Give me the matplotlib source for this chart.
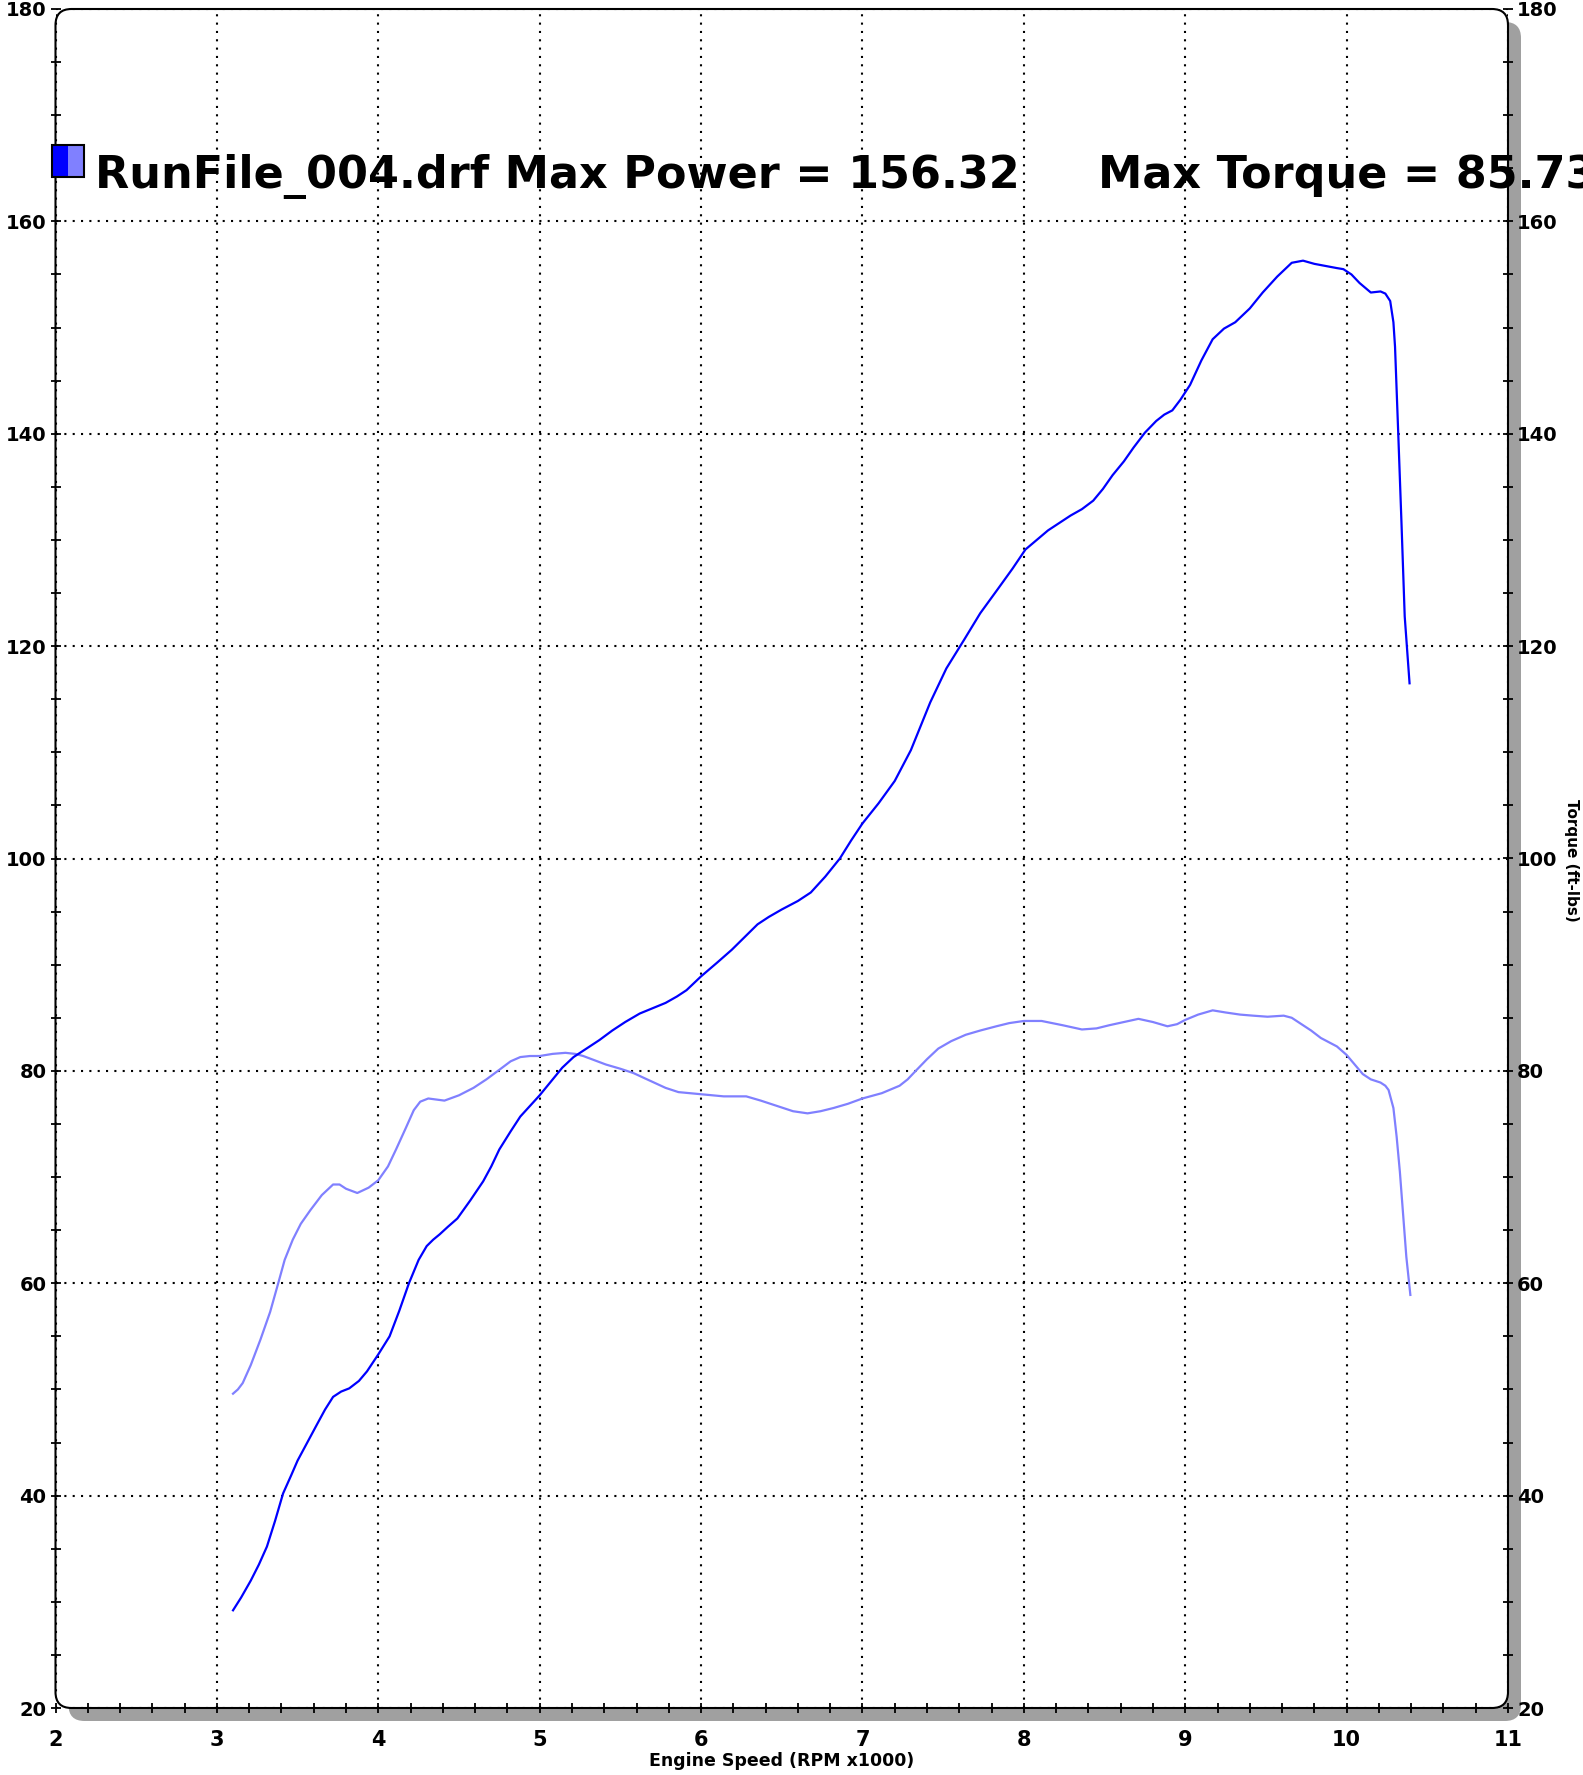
import matplotlib.pyplot as plt
import matplotlib
from matplotlib.patches import FancyBboxPatch, Rectangle
from matplotlib.transforms import IdentityTransform
from matplotlib.ticker import MultipleLocator

matplotlib.rcParams['font.family'] = ['DejaVu Sans']
matplotlib.rcParams['font.weight'] = 'bold'

# power curve (hp)
power_rpm = [3.10, 3.15, 3.21, 3.26, 3.31, 3.36, 3.41, 3.46, 3.50, 3.56, 3.62, 3.67, 3.72, 3.77,
             3.82, 3.88, 3.93, 4.00, 4.07, 4.13, 4.19, 4.25, 4.30, 4.34, 4.38, 4.43, 4.49, 4.57,
             4.65, 4.70, 4.75, 4.82, 4.88, 4.94, 5.00, 5.07, 5.14, 5.21, 5.29, 5.37, 5.45, 5.53,
             5.62, 5.70, 5.78, 5.85, 5.91, 6.00, 6.10, 6.19, 6.27, 6.35, 6.42, 6.50, 6.60, 6.68,
             6.77, 6.86, 6.93, 7.00, 7.10, 7.20, 7.30, 7.42, 7.52, 7.63, 7.73, 7.84, 7.93, 8.01,
             8.08, 8.15, 8.22, 8.29, 8.36, 8.43, 8.49, 8.55, 8.62, 8.68, 8.75, 8.82, 8.87, 8.92,
             8.97, 9.03, 9.10, 9.17, 9.24, 9.31, 9.40, 9.48, 9.57, 9.66, 9.73, 9.80, 9.87, 9.94,
             9.98, 10.03, 10.08, 10.15, 10.21, 10.24, 10.27, 10.29, 10.30, 10.32, 10.34, 10.36, 10.39]
power_hp = [29.2, 30.4, 32.0, 33.5, 35.2, 37.6, 40.2, 41.9, 43.3, 45.0, 46.7, 48.1, 49.3, 49.8,
            50.1, 50.8, 51.7, 53.3, 55.0, 57.4, 60.0, 62.2, 63.5, 64.1, 64.6, 65.3, 66.1, 67.8,
            69.6, 71.0, 72.6, 74.3, 75.7, 76.7, 77.7, 79.0, 80.3, 81.3, 82.1, 82.9, 83.8, 84.6,
            85.4, 85.9, 86.4, 87.0, 87.6, 88.9, 90.2, 91.4, 92.6, 93.8, 94.5, 95.2, 96.0, 96.8,
            98.3, 100.0, 101.7, 103.3, 105.2, 107.3, 110.2, 114.7, 117.9, 120.6, 123.1, 125.4, 127.3, 129.1,
            130.0, 130.9, 131.6, 132.3, 132.9, 133.7, 134.8, 136.1, 137.4, 138.7, 140.1, 141.2, 141.8, 142.2,
            143.2, 144.6, 146.9, 148.9, 149.9, 150.5, 151.8, 153.3, 154.8, 156.1, 156.3, 156.0, 155.8, 155.6,
            155.5, 155.0, 154.2, 153.3, 153.4, 153.2, 152.5, 150.5, 148.2, 140.0, 131.6, 122.8, 116.5]

# torque curve (ft-lbs)
torque_rpm = [3.10, 3.13, 3.16, 3.21, 3.27, 3.33, 3.38, 3.42, 3.47, 3.52, 3.58, 3.65, 3.72, 3.76,
              3.80, 3.87, 3.94, 4.00, 4.06, 4.11, 4.17, 4.22, 4.26, 4.31, 4.36, 4.41, 4.50, 4.59,
              4.67, 4.75, 4.82, 4.88, 4.94, 5.00, 5.08, 5.16, 5.22, 5.27, 5.34, 5.41, 5.50, 5.58,
              5.68, 5.78, 5.86, 5.93, 6.00, 6.14, 6.28, 6.37, 6.47, 6.57, 6.66, 6.74, 6.82, 6.91,
              7.00, 7.12, 7.23, 7.28, 7.33, 7.40, 7.47, 7.55, 7.64, 7.73, 7.83, 7.91, 8.00, 8.11,
              8.24, 8.36, 8.45, 8.53, 8.62, 8.71, 8.80, 8.89, 8.95, 9.00, 9.08, 9.17, 9.25, 9.34,
              9.42, 9.51, 9.61, 9.66, 9.71, 9.78, 9.84, 9.94, 10.00, 10.05, 10.10, 10.15, 10.21,
              10.24, 10.26, 10.29, 10.31, 10.33, 10.35, 10.37, 10.395]
torque_ftlb = [49.6, 50.0, 50.6, 52.3, 54.7, 57.3, 60.0, 62.2, 64.1, 65.6, 66.9, 68.3, 69.3, 69.3,
               68.9, 68.5, 69.0, 69.7, 71.0, 72.6, 74.6, 76.3, 77.1, 77.4, 77.3, 77.2, 77.7, 78.4,
               79.2, 80.1, 80.9, 81.3, 81.4, 81.4, 81.6, 81.7, 81.6, 81.4, 81.0, 80.6, 80.2, 79.8,
               79.1, 78.4, 78.0, 77.9, 77.8, 77.6, 77.6, 77.2, 76.7, 76.2, 76.0, 76.2, 76.5, 76.9,
               77.4, 77.9, 78.6, 79.2, 80.0, 81.1, 82.1, 82.8, 83.4, 83.8, 84.2, 84.5, 84.7, 84.7,
               84.3, 83.9, 84.0, 84.3, 84.6, 84.9, 84.6, 84.2, 84.4, 84.8, 85.3, 85.7, 85.5, 85.3,
               85.2, 85.1, 85.2, 85.0, 84.5, 83.8, 83.1, 82.3, 81.5, 80.6, 79.7, 79.2, 78.9,
               78.6, 78.2, 76.5, 73.8, 70.5, 66.5, 62.5, 58.9]

W, H = 1583, 1775
L, R, T, B = 55.5, 1508, 9, 1708

fig = plt.figure(figsize=(W / 100, H / 100), dpi=100)

# drop shadow + rounded frame (pixel coords)
shadow = FancyBboxPatch((L + 13, H - B - 13), R - L, B - T, boxstyle="round,pad=0,rounding_size=16",
                        transform=IdentityTransform(), fc='#a0a0a0', ec='none', zorder=-3)
frame = FancyBboxPatch((L, H - B), R - L, B - T, boxstyle="round,pad=0,rounding_size=16",
                       transform=IdentityTransform(), fc='white', ec='black', lw=1.5, zorder=-2)
fig.add_artist(shadow)
fig.add_artist(frame)

ax = fig.add_axes([L / W, 1 - B / H, (R - L) / W, (B - T) / H])
ax.patch.set_visible(False)
ax.set_xlim(2, 11)
ax.set_ylim(20, 180)
for s in ax.spines.values():
    s.set_visible(False)

ax.plot(torque_rpm, torque_ftlb, color='#8080ff', lw=1.6, zorder=3, solid_joinstyle='round')
ax.plot(power_rpm, power_hp, color='#0000ff', lw=1.6, zorder=4, solid_joinstyle='round')

ax.xaxis.set_major_locator(MultipleLocator(1))
ax.xaxis.set_minor_locator(MultipleLocator(0.2))
ax.yaxis.set_major_locator(MultipleLocator(20))
ax.yaxis.set_minor_locator(MultipleLocator(5))
ax.grid(True, which='major', color='black', ls=(0, (1, 3)), lw=1.5)

ax.tick_params(which='both', direction='inout', length=7, width=1.3, color='black')
ax.tick_params(axis='y', which='both', left=True, right=True, labelsize=14, pad=3)
ax.tick_params(axis='x', which='both', bottom=True, top=False, labelsize=15, pad=12)
for lab in ax.get_xticklabels() + ax.get_yticklabels():
    lab.set_fontweight('bold')

ax2 = ax.twinx()
ax2.set_ylim(20, 180)
for s in ax2.spines.values():
    s.set_visible(False)
ax2.yaxis.set_major_locator(MultipleLocator(20))
ax2.yaxis.set_minor_locator(MultipleLocator(5))
ax2.tick_params(which='both', direction='inout', length=7, width=1.3, labelsize=14, pad=3)
for lab in ax2.get_yticklabels():
    lab.set_fontweight('bold')

ax.set_xlabel('Engine Speed (RPM x1000)', fontsize=12.5, fontweight='bold', labelpad=2)
fig.text(1572 / W, 1 - 860 / H, 'Torque (ft-lbs)', rotation=-90, ha='center', va='center',
         fontsize=11, fontweight='bold')

# legend swatch and run summary
fig.add_artist(Rectangle((52, H - 177), 16, 32, transform=IdentityTransform(),
                         fc='#0000ff', ec='none', zorder=5))
fig.add_artist(Rectangle((68, H - 177), 16, 32, transform=IdentityTransform(),
                         fc='#8080ff', ec='none', zorder=5))
fig.add_artist(Rectangle((52, H - 177), 32, 32, transform=IdentityTransform(),
                         fc='none', ec='black', lw=1.5, zorder=6))
fig.text(95 / W, 1 - 188 / H, 'RunFile_004.drf Max Power = 156.32', fontsize=32,
         fontweight='heavy', va='baseline', ha='left')
fig.text(1098 / W, 1 - 188 / H, 'Max Torque = 85.73', fontsize=32,
         fontweight='heavy', va='baseline', ha='left')

fig.savefig('out.png', dpi=100)
